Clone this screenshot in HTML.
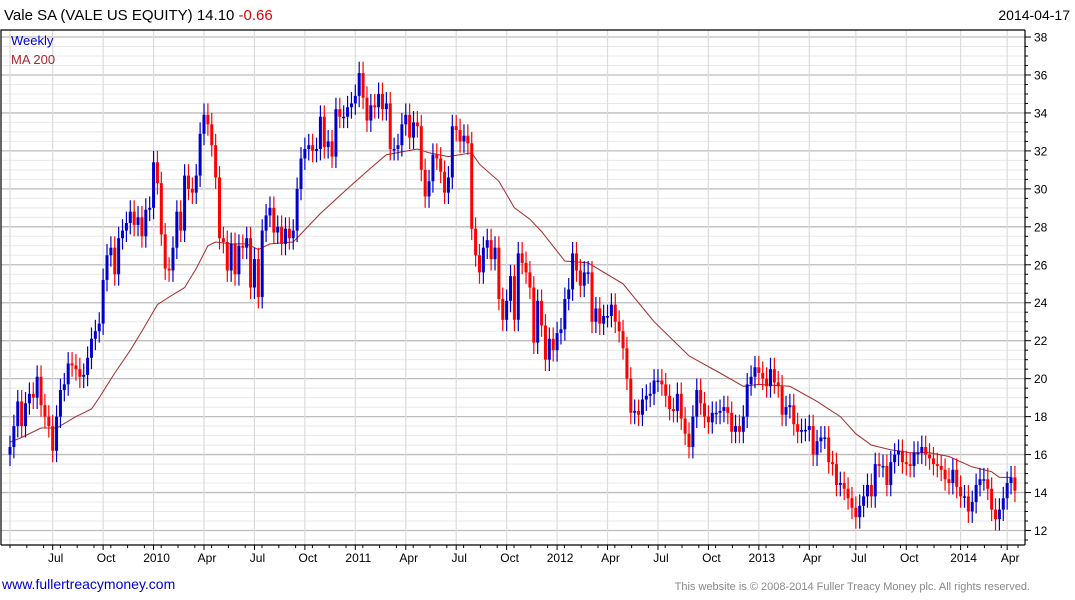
<!DOCTYPE html>
<html><head><meta charset="utf-8"><style>
body{margin:0;background:#fff;font-family:"Liberation Sans",sans-serif;}
svg{display:block}
</style></head><body>
<svg id="chart" width="1075" height="600" xmlns="http://www.w3.org/2000/svg">
<text x="4" y="20" font-size="15" fill="#000">Vale SA (VALE US EQUITY) 14.10 <tspan fill="#e00000">-0.66</tspan></text>
<text x="1070" y="20" font-size="14" text-anchor="end" fill="#000">2014-04-17</text>
<g id="grid"></g><g id="ma"></g><g id="candles"></g><g id="axes"></g>
<text x="11" y="45" font-size="13" fill="#0000cc">Weekly</text>
<text x="11" y="64" font-size="13" fill="#a52a2a">MA 200</text>
<text x="2" y="589" font-size="14" fill="#0000cc">www.fullertreacymoney.com</text>
<text x="1030" y="590" font-size="11" text-anchor="end" fill="#888">This website is © 2008-2014 Fuller Treacy Money plc. All rights reserved.</text>
</svg>
<script>
const closes=[16.4,17.5,18.8,17.5,18.7,19.2,19.0,20.1,18.6,18.0,17.5,16.2,18.0,19.4,19.7,20.8,20.7,20.5,20.1,20.2,
21.1,22.1,22.5,22.9,25.2,26.5,26.9,25.5,27.4,27.8,28.2,28.8,28.1,28.5,27.5,28.9,29.0,31.4,30.3,27.6,
25.8,25.7,26.9,28.8,27.8,30.7,30.0,29.8,30.7,32.9,33.9,33.4,32.3,30.6,27.4,27.2,25.7,27.1,25.5,27.0,
26.9,27.4,24.8,26.3,24.3,27.8,28.6,29.0,27.7,28.0,27.1,27.9,27.4,27.8,30.0,31.6,32.1,32.3,32.0,32.1,
33.8,32.2,32.5,31.7,34.2,33.8,33.8,34.3,34.5,34.9,36.1,34.8,33.6,34.4,34.3,35.0,34.2,34.5,32.1,32.1,
32.3,33.4,33.9,32.7,33.5,33.3,31.0,29.6,30.4,31.8,31.6,30.9,29.8,30.6,33.3,33.1,32.5,32.8,32.4,27.9,
26.5,25.6,26.9,27.3,26.3,26.9,24.2,23.1,24.1,25.4,23.1,26.6,26.1,25.6,24.8,21.9,24.1,22.8,21.0,22.1,
21.5,22.4,22.6,24.2,24.7,26.6,25.7,24.9,25.6,25.6,23.0,23.7,22.9,23.3,23.3,23.9,23.0,22.5,21.6,20.0,
18.2,18.3,18.1,18.9,19.1,19.2,19.9,19.9,19.7,19.1,18.4,18.3,19.2,17.9,17.1,16.4,18.0,19.4,18.7,18.0,
17.7,18.2,18.2,18.3,18.5,18.2,17.2,17.5,17.2,18.0,19.7,20.1,20.6,20.3,20.0,19.6,20.5,19.8,19.6,18.1,
18.5,18.6,17.6,17.2,17.3,17.3,17.5,16.0,16.7,16.9,16.9,15.6,15.5,14.4,14.5,14.2,13.7,13.2,12.7,13.3,
13.8,14.4,13.8,15.5,15.4,15.4,14.4,15.6,16.0,16.2,15.6,15.5,15.4,16.1,16.1,16.4,16.0,15.8,15.5,15.4,
15.2,14.7,14.5,15.2,14.3,13.8,13.8,13.0,13.5,14.4,14.7,14.7,14.2,13.1,12.6,13.1,13.7,14.5,14.8,14.1];
const firstOpen=16.0;
const maWeeks=[0,3,8,12,17,21,23,27,31,34,38,41,45,48,51,53,57,61,64,67,73,80,88,93,97,105,108,113,119,121,126,130,134,137,143,149,158,166,175,183,189,193,201,208,214,218,222,227,232,237,242,248,253,255,258];
const maVals=[16.65,16.9,17.4,17.4,18.0,18.4,19.0,20.3,21.5,22.5,23.9,24.3,24.8,25.8,27.0,27.2,27.1,27.1,26.8,27.1,27.2,28.7,30.2,31.1,31.8,32.1,31.9,31.7,31.9,31.3,30.4,29.0,28.4,27.75,26.2,26.1,25.0,23.0,21.2,20.3,19.6,19.7,19.6,18.8,18.0,17.1,16.5,16.25,16.1,16.1,15.9,15.35,15.1,14.8,14.8];
const yTicks=[12,14,16,18,20,22,24,26,28,30,32,34,36,38];
const xTickLabels=["Jul","Oct","2010","Apr","Jul","Oct","2011","Apr","Jul","Oct","2012","Apr","Jul","Oct","2013","Apr","Jul","Oct","2014","Apr"];
const xTickWeeks=[11,24,37,50,63,76,89,102,115,128,141,154,167,180,193,206,218,231,245,257];

const NS="http://www.w3.org/2000/svg";
const X0=10,DX=3.88,AXR=1025,TOP=30,BOT=545;
function xs(i){return X0+i*DX;}
function ys(v){return 530.5-(v-12)*18.98;}
function mk(parent,tag,attrs){const e=document.createElementNS(NS,tag);for(const k in attrs)e.setAttribute(k,attrs[k]);parent.appendChild(e);return e;}
const grid=document.getElementById('grid'),axes=document.getElementById('axes');
for(let v=11.5;v<=38.5;v+=0.5){const y=ys(v);if(y<TOP||y>BOT)continue;
 const major=Math.abs(v%2)<0.01;
 const l=mk(grid,'line',{x1:1,x2:AXR,y1:y,y2:y,stroke:major?'#bdbdbd':'#e8e8e8','stroke-width':major?1.3:1});
 
 
 const t=mk(axes,'line',{x1:AXR,x2:AXR+(major?6:3),y1:y,y2:y,stroke:'#000'});
 
 
}
const vg=[0].concat(xTickWeeks);
vg.forEach(w=>{const x=xs(w);const l=mk(grid,'line',{x1:x,x2:x,y1:TOP,y2:BOT,stroke:'#dcdcdc','stroke-width':1.2});
 
 });
const fr=mk(axes,'path',{d:`M1 ${BOT} L1 ${TOP} L${AXR} ${TOP} M${AXR} ${TOP} L${AXR} ${BOT} M1 ${BOT} L${AXR} ${BOT}`,stroke:'#000',fill:'none','stroke-width':1.2});


yTicks.forEach(v=>{const t=mk(axes,'text',{x:AXR+9,y:ys(v)+4.5,'font-size':12,fill:'#000'});t.textContent=v;
 
 });
xTickLabels.forEach((s,i)=>{const x=xs(xTickWeeks[i]);
 const t=mk(axes,'text',{x:x+3,y:562,'font-size':12,'text-anchor':'middle',fill:'#000'});t.textContent=s;
 
 
 const k=mk(axes,'line',{x1:x,x2:x,y1:BOT,y2:BOT+5,stroke:'#000'});
 
 });
for(let w=0;w<=260;w+=4.33){const x=xs(w);const k=mk(axes,'line',{x1:x,x2:x,y1:BOT,y2:BOT+3,stroke:'#000'});
 
 }
const ma=document.getElementById('ma');
const pts=maWeeks.map((w,i)=>xs(w).toFixed(1)+','+ys(maVals[i]).toFixed(1)).join(' ');
const pl=mk(ma,'polyline',{points:pts,fill:'none',stroke:'#a52a2a','stroke-width':1});


const cg=document.getElementById('candles');
closes.forEach((c,i)=>{const o=i===0?firstOpen:closes[i-1];const x=xs(i);
 const up=c>=o;const col=up?'#0000cc':'#ff0000';
 const hi=Math.max(o,c)+0.6,lo=Math.min(o,c)-0.6;
 const g=mk(cg,'g',{});
 
 
 mk(g,'line',{x1:x,x2:x,y1:ys(hi),y2:ys(lo),stroke:col,'stroke-width':1.2});
 const yt=ys(Math.max(o,c)),yb=ys(Math.min(o,c));
 mk(g,'rect',{x:x-1.5,y:yt,width:3,height:Math.max(1.5,yb-yt),fill:col});
});
</script>
</body></html>
